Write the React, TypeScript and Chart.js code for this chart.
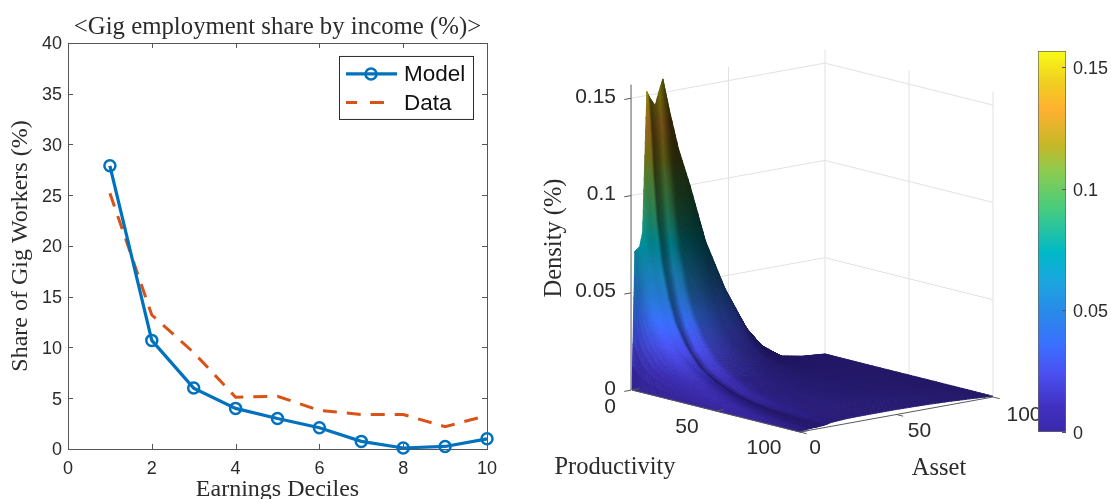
import React, { useEffect, useRef } from "react";
import { Chart, registerables } from "chart.js";

Chart.register(...registerables);

/* ---------- left panel data ---------- */
const deciles = [1, 2, 3, 4, 5, 6, 7, 8, 9, 10];
const modelShare = [27.9, 10.7, 6.0, 4.0, 3.0, 2.1, 0.75, 0.1, 0.25, 1.0];
const dataShare = [25.2, 13.2, 9.5, 5.1, 5.2, 3.8, 3.4, 3.4, 2.2, 3.3];

/* ---------- right panel data (density over productivity x asset) ---------- */
const productivityNodes = [0, 1.5, 3, 5, 8, 12, 16, 22, 30, 40, 50, 60, 70, 85, 100];
const assetNodes = [0, 1.5, 4, 5.5, 6.5, 7.7, 9, 12, 14, 16, 19, 24, 30, 38, 48, 59, 67, 77, 88, 100];
const densityP0 = [0, .071, .073, .080, .113, .152, .149, .144, .151, .157, .142, .120, .100, .070, .044, .0216, .011, .0036, .0015, .0005];
const densityP1 = [0, .062, .066, .074, .100, .134, .133, .124, .133, .141, .128, .108, .090, .063, .040, .020, .010, .0034, .0015, .0005];
const densityP3 = [0, .052, .057, .064, .084, .110, .110, .102, .110, .118, .108, .092, .077, .054, .035, .0175, .009, .0032, .0015, .0005];
const densityP5 = [0, .042, .048, .054, .068, .086, .087, .079, .086, .094, .087, .075, .063, .045, .029, .015, .008, .003, .0015, .0005];
const densityP8 = [0, .033, .039, .044, .052, .064, .066, .060, .064, .071, .067, .059, .050, .036, .024, .0125, .007, .0028, .0015, .0005];
const densityP12 = [0, .026, .032, .035, .040, .047, .049, .043, .046, .053, .050, .045, .039, .028, .019, .010, .006, .0026, .0015, .0005];
const densityP16 = [0, .021, .027, .029, .032, .036, .037, .032, .034, .040, .038, .035, .030, .022, .015, .0085, .005, .0025, .0015, .0005];
const densityP22 = [0, .016, .021, .022, .023, .026, .026, .0215, .023, .028, .027, .025, .022, .017, .0115, .0068, .0045, .0024, .0016, .0005];
const densityP30 = [0, .011, .015, .016, .016, .017, .017, .0135, .015, .018, .018, .017, .015, .012, .0085, .0055, .004, .0024, .0016, .0005];
const densityP40 = [0, .008, .010, .011, .011, .011, .011, .0085, .0095, .012, .012, .011, .010, .0085, .0065, .0047, .0036, .0025, .0017, .0005];
const densityP50 = [0, .0055, .007, .0075, .0075, .0075, .0073, .005, .0058, .0078, .008, .0078, .0075, .0068, .0056, .0043, .0035, .0025, .0017, .0005];
const densityP60 = [0, .004, .005, .0052, .0052, .005, .005, .003, .0036, .0052, .0058, .0062, .0062, .006, .0052, .0042, .0035, .0026, .0018, .0005];
const densityP70 = [0, .0028, .0035, .0037, .0037, .0036, .0036, .002, .0027, .0038, .0045, .005, .0053, .0055, .005, .0042, .0035, .0027, .0018, .0005];
const densityP85 = [0, .0015, .002, .002, .002, .002, .002, .0015, .002, .0028, .0034, .0042, .0047, .005, .0048, .0042, .0036, .0028, .0019, .0005];
const densityP100 = [0, .0005, .0008, .0009, .001, .001, .001, .0012, .0015, .002, .0022, .0025, .0026, .0026, .0026, .0024, .0022, .0018, .0012, .0004];
const densityRows = [densityP0, densityP1, densityP3, densityP5, densityP8, densityP12, densityP16, densityP22, densityP30, densityP40, densityP50, densityP60, densityP70, densityP85, densityP100];

const densityTicks = [0, 0.05, 0.1, 0.15];
const densityTickLabels = ["0", "0.05", "0.1", "0.15"];
const axisTicks = [0, 50, 100];
const DENSITY_MAX = 0.157;

/* parula-like colour bar stops: [fraction, r, g, b] */
const colourStops = [
  [0, 58, 40, 170], [0.066, 64, 48, 192], [0.153, 74, 80, 240], [0.23, 58, 112, 255],
  [0.31, 42, 136, 234], [0.39, 28, 164, 224], [0.47, 0, 184, 200], [0.583, 68, 204, 128],
  [0.684, 140, 204, 80], [0.75, 196, 184, 40], [0.846, 255, 176, 48], [0.92, 240, 208, 32], [1, 249, 251, 21],
];

const SANS = "'Liberation Sans', Arial, sans-serif";
const SERIF = "'Liberation Serif', serif";
const INK = "#2b2b2b";
const AXIS = "#5a5a5a";

const parula = (f: number) => {
  const t = Math.max(0, Math.min(1, f));
  for (let i = 1; i < colourStops.length; i++) {
    if (t <= colourStops[i][0]) {
      const a = colourStops[i - 1], b = colourStops[i];
      const k = (t - a[0]) / (b[0] - a[0]);
      return [a[1] + (b[1] - a[1]) * k, a[2] + (b[2] - a[2]) * k, a[3] + (b[3] - a[3]) * k];
    }
  }
  return colourStops[colourStops.length - 1].slice(1);
};

/* orthographic view: maps (productivity, asset, density) into the chart's x/y scales */
const project = (p: number, a: number, z: number) => ({
  x: 632 + 1.68 * p + 1.93 * a,
  y: 390 + 0.42 * p - 0.35 * a - 1946 * z,
});

const boxPlugin = {
  id: "box",
  beforeDatasetsDraw(chart: any) {
    const { ctx, chartArea: c, scales } = chart;
    ctx.save();
    ctx.strokeStyle = "#555";
    ctx.lineWidth = 1;
    ctx.strokeRect(Math.round(c.left) + 0.5, Math.round(c.top) + 0.5, Math.round(c.width), Math.round(c.height));
    ctx.beginPath();
    scales.x.ticks.forEach((t: any) => {
      const x = Math.round(scales.x.getPixelForValue(t.value)) + 0.5;
      ctx.moveTo(x, c.bottom); ctx.lineTo(x, c.bottom - 5);
      ctx.moveTo(x, c.top); ctx.lineTo(x, c.top + 5);
    });
    scales.y.ticks.forEach((t: any) => {
      const y = Math.round(scales.y.getPixelForValue(t.value)) + 0.5;
      ctx.moveTo(c.left, y); ctx.lineTo(c.left + 5, y);
      ctx.moveTo(c.right, y); ctx.lineTo(c.right - 5, y);
    });
    ctx.stroke();
    ctx.restore();
  },
};

const legendPlugin = {
  id: "insideLegend",
  afterDatasetsDraw(chart: any) {
    const { ctx, chartArea: c } = chart;
    const sets = chart.data.datasets;
    const left = c.left + 271, top = c.top + 13, w = 134, h = 63;
    ctx.save();
    ctx.fillStyle = "#fff";
    ctx.fillRect(left, top, w, h);
    ctx.strokeStyle = "#2b2b2b";
    ctx.lineWidth = 1;
    ctx.strokeRect(left + 0.5, top + 0.5, w, h);
    sets.forEach((d: any, i: number) => {
      const y = top + 18 + i * 28.5;
      ctx.strokeStyle = d.borderColor;
      ctx.lineWidth = d.borderWidth;
      ctx.setLineDash(d.borderDash ? [14, 13] : []);
      ctx.lineDashOffset = d.borderDash ? 3 : 0;
      ctx.beginPath(); ctx.moveTo(left + 7, y); ctx.lineTo(left + 58, y); ctx.stroke();
      ctx.setLineDash([]);
      if (d.pointRadius > 0) {
        ctx.lineWidth = d.pointBorderWidth;
        ctx.beginPath(); ctx.arc(left + 32, y, d.pointRadius, 0, Math.PI * 2); ctx.stroke();
      }
      ctx.fillStyle = "#111";
      ctx.font = `22.5px ${SANS}`;
      ctx.textBaseline = "middle";
      ctx.textAlign = "left";
      ctx.fillText(d.label, left + 65, y + 1);
    });
    ctx.restore();
  },
};

const surfacePlugin = {
  id: "surface",
  afterDatasetsDraw(chart: any) {
    const { ctx, scales } = chart;
    const X = (v: number) => scales.x.getPixelForValue(v);
    const Y = (v: number) => scales.y.getPixelForValue(v);
    const P = productivityNodes, A = assetNodes, Z = densityRows;
    const L = [0.55, -0.72, 0.45];
    const lz = Math.hypot(L[0], L[1], L[2]);
    const raw = P.map((_, i) =>
      A.map((_, j) => {
        const i0 = Math.max(0, i - 1), i1 = Math.min(P.length - 1, i + 1);
        const j0 = Math.max(0, j - 1), j1 = Math.min(A.length - 1, j + 1);
        const zp = ((Z[i1][j] - Z[i0][j]) / DENSITY_MAX) / ((P[i1] - P[i0]) / 100);
        const za = ((Z[i][j1] - Z[i][j0]) / DENSITY_MAX) / ((A[j1] - A[j0]) / 100);
        const len = Math.hypot(zp, za, 1);
        const d = (-zp * L[0] - za * L[1] + L[2]) / (len * lz);
        const steep = Math.pow(1 - 1 / Math.hypot(zp, 1), 3);
        return Math.max(0.2, 0.3 + 0.75 * Math.max(0, d) - 0.6 * steep);
      })
    );
    const shade = raw.map((row, i) =>
      row.map((v, j) => {
        const up = raw[Math.max(0, i - 1)][j], dn = raw[Math.min(P.length - 1, i + 1)][j];
        return (up + 2 * v + dn) / 4;
      })
    );
    const N = 6;
    const lerp2 = (m: number[][], i: number, j: number, u: number, v: number) =>
      (m[i][j] * (1 - u) + m[i + 1][j] * u) * (1 - v) + (m[i][j + 1] * (1 - u) + m[i + 1][j + 1] * u) * v;
    ctx.save();
    ctx.lineWidth = 0.8;
    ctx.lineJoin = "round";
    for (let j = A.length - 2; j >= 0; j--) {
      for (let sv = N - 1; sv >= 0; sv--) {
        for (let i = 0; i < P.length - 1; i++) {
          for (let su = 0; su < N; su++) {
            const corner = (a: number, b: number) => {
              const u = (su + a) / N, v = (sv + b) / N;
              const q = project(P[i] + (P[i + 1] - P[i]) * u, A[j] + (A[j + 1] - A[j]) * v, lerp2(Z, i, j, u, v));
              return [X(q.x), Y(q.y)];
            };
            const u = (su + 0.5) / N, v = (sv + 0.5) / N;
            const f = lerp2(Z, i, j, u, v) / DENSITY_MAX;
            const s = lerp2(shade, i, j, u, v);
            const col = parula(f);
            const css = `rgb(${Math.min(255, col[0] * s) | 0},${Math.min(255, col[1] * s) | 0},${Math.min(255, col[2] * s) | 0})`;
            const c = [corner(0, 0), corner(1, 0), corner(1, 1), corner(0, 1)];
            ctx.beginPath();
            ctx.moveTo(c[0][0], c[0][1]);
            for (let k = 1; k < 4; k++) ctx.lineTo(c[k][0], c[k][1]);
            ctx.closePath();
            ctx.fillStyle = css; ctx.strokeStyle = css;
            ctx.fill(); ctx.stroke();
          }
        }
      }
    }
    // axes
    ctx.strokeStyle = AXIS;
    ctx.lineWidth = 1;
    const seg = (a: any, b: any) => {
      ctx.beginPath(); ctx.moveTo(X(a.x), Y(a.y)); ctx.lineTo(X(b.x), Y(b.y)); ctx.stroke();
    };
    seg(project(0, -0.5, 0), project(0, -0.5, DENSITY_MAX));
    seg(project(0, 0, 0), project(100, 0, 0));
    seg(project(100, 0, 0), project(100, 100, 0));
    densityTicks.forEach((t) => seg(project(0, -0.5, t), project(0, -4, t)));
    axisTicks.forEach((t) => {
      seg(project(t, 0, 0), project(t, 4, 0));
      seg(project(100, t, 0), project(104, t, 0));
    });
    // tick labels
    ctx.fillStyle = INK;
    ctx.font = `21px ${SANS}`;
    ctx.textBaseline = "middle";
    ctx.textAlign = "right";
    densityTicks.forEach((t, i) => {
      const q = project(0, 0, t);
      ctx.fillText(densityTickLabels[i], X(q.x) - 16, Y(q.y) - 1);
    });
    ctx.textAlign = "center";
    axisTicks.forEach((t) => {
      const q = project(t, 0, 0);
      ctx.fillText(String(t), X(q.x) - 22 - 0.14 * t, Y(q.y) + 17 - 0.01 * t);
      const r = project(100, t, 0);
      ctx.fillText(String(t), X(r.x) + 15 + 0.16 * t, Y(r.y) + 16 + 0.02 * t);
    });
    // axis titles
    ctx.font = `24.5px ${SERIF}`;
    ctx.fillText("Productivity", X(615), Y(468));
    ctx.fillText("Asset", X(939), Y(469));
    ctx.save();
    ctx.translate(X(555), Y(238));
    ctx.rotate(-Math.PI / 2);
    ctx.fillText("Density (%)", 0, 0);
    ctx.restore();
    ctx.restore();
  },
};

const colourTickPlugin = {
  id: "colourTicks",
  afterDatasetsDraw(chart: any) {
    const { ctx, chartArea: c, scales } = chart;
    ctx.save();
    ctx.strokeStyle = "#555";
    ctx.beginPath();
    scales.y.ticks.forEach((t: any) => {
      const y = Math.round(scales.y.getPixelForValue(t.value)) + 0.5;
      ctx.moveTo(c.right, y); ctx.lineTo(c.right - 4, y);
    });
    ctx.stroke();
    ctx.restore();
  },
};

const wallLine = (from: number[], to: number[]) => ({
  data: [project(from[0], from[1], from[2]), project(to[0], to[1], to[2])],
  showLine: true,
  pointRadius: 0,
  borderColor: "#e2e2e2",
  borderWidth: 1,
});

const soft = { position: "absolute" as const, top: 0, filter: "blur(0.45px)" };

export default function App() {
  const left = useRef<HTMLCanvasElement>(null);
  const mid = useRef<HTMLCanvasElement>(null);
  const bar = useRef<HTMLCanvasElement>(null);

  useEffect(() => {
    const lineChart = new Chart(left.current!, {
      type: "scatter",
      data: {
        datasets: [
          {
            label: "Model",
            data: deciles.map((x, i) => ({ x, y: modelShare[i] })),
            showLine: true,
            borderColor: "#0072BD",
            borderWidth: 3.2,
            pointRadius: 5.5,
            pointBorderWidth: 2.5,
            pointBorderColor: "#0072BD",
            pointBackgroundColor: "rgba(0,0,0,0)",
            clip: false,
            order: 1,
          },
          {
            label: "Data",
            data: deciles.map((x, i) => ({ x, y: dataShare[i] })),
            showLine: true,
            borderColor: "#D95319",
            borderWidth: 3,
            borderDash: [14, 10],
            pointRadius: 0,
            clip: false,
            order: 2,
          },
        ],
      },
      options: {
        responsive: false,
        animation: false,
        layout: { padding: { right: 33, left: 0, top: 0, bottom: 0 } },
        plugins: {
          legend: { display: false },
          tooltip: { enabled: false },
          title: {
            display: true,
            fullSize: false,
            text: "<Gig employment share by income (%)>",
            color: INK,
            font: { family: SERIF, size: 24.8, weight: "normal", lineHeight: 1.2 },
            padding: { top: 12.5, bottom: 0.7 },
          },
        },
        scales: {
          x: {
            type: "linear", min: 0, max: 10,
            grid: { display: false, drawTicks: false },
            border: { display: false },
            ticks: { stepSize: 2, color: INK, padding: 9, font: { family: SANS, size: 18 }, maxRotation: 0 },
            title: { display: true, text: "Earnings Deciles", color: INK, font: { family: SERIF, size: 24 }, padding: { top: 0, bottom: -5 } },
            afterFit: (s: any) => { s.height = 50; },
          },
          y: {
            type: "linear", min: 0, max: 40,
            grid: { display: false, drawTicks: false },
            border: { display: false },
            ticks: { stepSize: 5, color: INK, padding: 6, labelOffset: 1.5, font: { family: SANS, size: 18 } },
            title: { display: true, text: "Share of Gig Workers (%)", color: INK, font: { family: SERIF, size: 24 }, padding: { top: 6, bottom: 0 } },
            afterFit: (s: any) => { s.width = 68; },
          },
        },
      } as any,
      plugins: [boxPlugin, legendPlugin],
    });

    const wallTicks = densityTicks.slice(1);
    const surfaceChart = new Chart(mid.current!, {
      type: "scatter",
      data: {
        datasets: [
          ...wallTicks.map((t) => wallLine([0, 0, t], [0, 100, t])),
          ...wallTicks.map((t) => wallLine([0, 100, t], [100, 100, t])),
          wallLine([0, 50, 0], [0, 50, DENSITY_MAX]),
          wallLine([0, 100, 0], [0, 100, DENSITY_MAX]),
          wallLine([50, 100, 0], [50, 100, DENSITY_MAX]),
          wallLine([100, 100, 0], [100, 100, DENSITY_MAX]),
        ],
      },
      options: {
        responsive: false,
        animation: false,
        layout: { padding: 0 },
        plugins: { legend: { display: false }, tooltip: { enabled: false } },
        scales: {
          x: { type: "linear", min: 530, max: 1045, display: false },
          y: { type: "linear", min: 0, max: 499, reverse: true, display: false },
        },
      } as any,
      plugins: [surfacePlugin],
    });

    const colourChart = new Chart(bar.current!, {
      type: "bar",
      data: {
        labels: ["Density"],
        datasets: [
          {
            data: [[0, 0.1566]],
            barPercentage: 1,
            categoryPercentage: 1,
            borderColor: "#666",
            borderWidth: 1,
            borderSkipped: false,
            backgroundColor: (ctx: any) => {
              const area = ctx.chart.chartArea;
              if (!area) return "#000";
              const g = ctx.chart.ctx.createLinearGradient(0, area.bottom, 0, area.top);
              colourStops.forEach((s) => g.addColorStop(s[0], `rgb(${s[1]},${s[2]},${s[3]})`));
              return g;
            },
          },
        ],
      },
      options: {
        responsive: false,
        animation: false,
        layout: { padding: { left: 8, top: 51, bottom: 67, right: 0 } },
        plugins: { legend: { display: false }, tooltip: { enabled: false } },
        scales: {
          x: { display: false },
          y: {
            position: "right",
            min: 0, max: 0.1566,
            afterBuildTicks: (s: any) => { s.ticks = densityTicks.map((value) => ({ value })); },
            grid: { display: false, drawTicks: false },
            border: { display: false },
            ticks: {
              color: INK, padding: 7, labelOffset: 2, font: { family: SANS, size: 18 },
              callback: (v: number) => densityTickLabels[densityTicks.indexOf(v)],
            },
            afterFit: (s: any) => { s.width = 45; },
          },
        },
      } as any,
      plugins: [colourTickPlugin],
    });

    return () => {
      lineChart.destroy();
      surfaceChart.destroy();
      colourChart.destroy();
    };
  }, []);

  return (
    <div style={{ position: "absolute", left: 0, top: 0, width: 1111, height: 499, overflow: "hidden", background: "#fff" }}>
      <canvas ref={left} width={520} height={499} style={{ ...soft, left: 0 }} />
      <canvas ref={mid} width={515} height={499} style={{ ...soft, left: 530 }} />
      <canvas ref={bar} width={81} height={499} style={{ ...soft, left: 1030 }} />
    </div>
  );
}
